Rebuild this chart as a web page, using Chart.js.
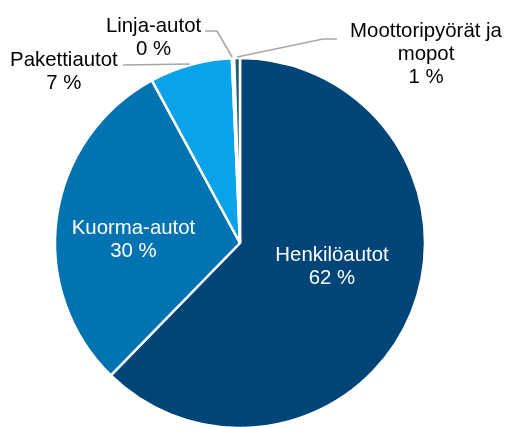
<!DOCTYPE html>
<html>
<head>
<meta charset="utf-8">
<script src="https://cdn.jsdelivr.net/npm/chart.js@4.4.1/dist/chart.umd.min.js"></script>
<style>
  html, body { margin: 0; padding: 0; background: #fff; }
</style>
</head>
<body>
<canvas id="pieChart" width="507" height="427"></canvas>
<script>
const categories = ["Henkilöautot", "Kuorma-autot", "Pakettiautot", "Linja-autot", ["Moottoripyörät ja", "mopot"]];
const shares = [62.3, 29.8, 7.2, 0.2, 0.5];
const sliceColors = ["#004578", "#0073B0", "#0AA2E8", "#9A9A9A", "#215F6F"];

// where each label goes, measured in pie radii from the centre
const labelSpots = [
  { at: [0.5, 0.12], color: "#fff" },
  { at: [-0.579, -0.027], color: "#fff" },
  { at: [-0.957, -0.938], color: "#000", leader: [[-0.636, -0.967], [-0.272, -0.973]] },
  { at: [-0.47, -1.125], color: "#000", leader: [[-0.19, -1.152], [-0.125, -1.152], [-0.043, -1.011]] },
  { at: [1.011, -1.035], color: "#000", leader: [[-0.016, -1.011], [0.451, -1.109], [0.527, -1.109]] },
];

const sliceLabels = {
  id: "sliceLabels",
  afterDatasetsDraw(chart) {
    const ctx = chart.ctx;
    const arcs = chart.getDatasetMeta(0).data;
    ctx.save();
    ctx.font = "20.4px 'Liberation Sans', Arial, sans-serif";
    ctx.textAlign = "center";
    ctx.textBaseline = "alphabetic";
    arcs.forEach((arc, i) => {
      const { x, y, outerRadius } = arc.getProps(["x", "y", "outerRadius"], true);
      const r = outerRadius - 1;
      const spot = labelSpots[i];
      if (spot.leader) {
        ctx.strokeStyle = "#A6A6A6";
        ctx.lineWidth = 1.6;
        ctx.beginPath();
        spot.leader.forEach(([px, py], k) => {
          if (k === 0) ctx.moveTo(x + px * r, y + py * r);
          else ctx.lineTo(x + px * r, y + py * r);
        });
        ctx.stroke();
      }
      const lines = [].concat(chart.data.labels[i], Math.round(shares[i]) + " %");
      const lh = 22.8;
      const cx = x + spot.at[0] * r;
      const cy = y + spot.at[1] * r;
      ctx.fillStyle = spot.color;
      lines.forEach((t, k) => {
        ctx.fillText(t, cx, cy + (k - (lines.length - 1) / 2) * lh + 7.3);
      });
    });
    ctx.restore();
  },
};

new Chart(document.getElementById("pieChart"), {
  type: "pie",
  data: {
    labels: categories,
    datasets: [
      {
        data: shares,
        backgroundColor: sliceColors,
        borderColor: "#fff",
        borderWidth: 2.5,
      },
    ],
  },
  options: {
    responsive: false,
    animation: false,
    radius: 185,
    layout: { padding: { left: 56, right: 83, top: 59, bottom: 0 } },
    plugins: {
      legend: { display: false },
      tooltip: { enabled: false },
    },
  },
  plugins: [sliceLabels],
});
</script>
</body>
</html>
